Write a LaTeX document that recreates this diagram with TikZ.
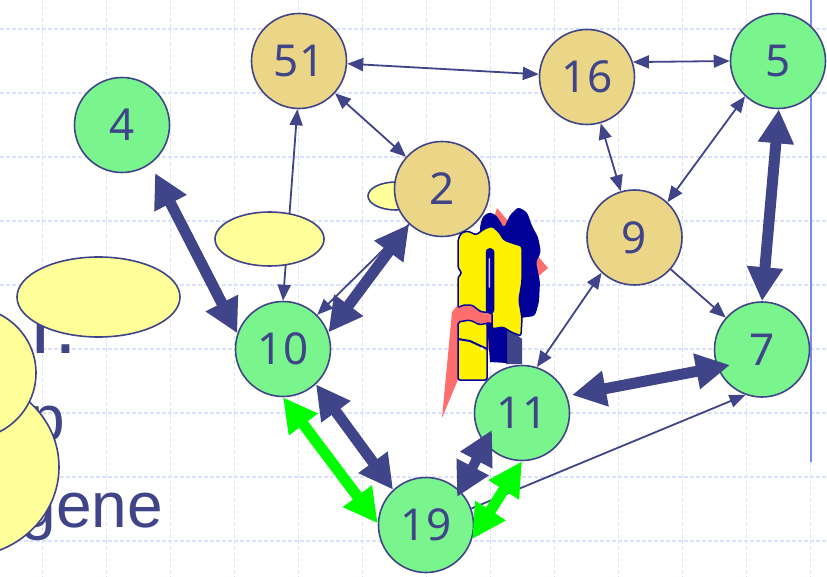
\documentclass[tikz,border=0pt]{standalone}
\usepackage{fontspec}
\setmainfont{Noto Sans}
\newfontfamily\slidefont{Liberation Sans}
\usetikzlibrary{arrows.meta,calc,shapes.geometric}

\definecolor{ink}{RGB}{64,68,136}
\definecolor{leaf}{RGB}{122,245,142}
\definecolor{sand}{RGB}{234,214,134}
\definecolor{cream}{RGB}{255,255,153}
\definecolor{gridblue}{RGB}{218,227,252}
\definecolor{rulecol}{RGB}{120,140,240}
\definecolor{deepblue}{RGB}{0,0,153}
\definecolor{salmon}{RGB}{255,110,110}
\definecolor{lime}{RGB}{0,255,0}

\tikzset{
  gridline/.style={gridblue, line width=1.5pt, dash pattern=on 4pt off 2pt},
  vertex/.style={circle, draw=ink, line width=1.6pt, minimum size=95pt, inner sep=0pt,
                 text=ink, font=\fontsize{44}{44}\selectfont},
  greenv/.style={vertex, fill=leaf},
  tanv/.style={vertex, fill=sand},
  blob/.style={ellipse, draw=ink, fill=cream, line width=1.6pt, inner sep=0pt},
  slidetext/.style={text=ink, inner sep=0pt, anchor=base east},
  thinlink/.style={draw=ink, line width=1.8pt,
                   {Triangle[length=16pt,width=13pt]}-{Triangle[length=16pt,width=13pt]}},
  thinone/.style={draw=ink, line width=1.8pt, -{Triangle[length=16pt,width=13pt]}},
  boldlink/.style={draw=ink, line width=11pt,
                   {Triangle[length=34pt,width=34pt]}-{Triangle[length=34pt,width=34pt]}},
  greenlink/.style={boldlink, draw=lime},
  clipline/.style={draw=deepblue, line width=1.5pt}
}

\begin{document}
\begin{tikzpicture}[x=1pt,y=-1pt]
\useasboundingbox (0,0) rectangle (827,577);
\clip (0,0) rectangle (827,577);
\fill[white] (0,0) rectangle (827,577);

% background grid
\foreach \i in {0,...,12} \draw[gridline] ({42.7+64*\i},0) -- ({42.7+64*\i},577);
\foreach \j in {0,...,8} \draw[gridline] (0,{29+64*\j}) -- (827,{29+64*\j});
\draw[rulecol, line width=2pt] (810.5,0) -- (810.5,462);

% slide text partly covered by the shapes
\node[slidetext, font=\slidefont\fontsize{82}{82}\selectfont] (t1) at (77,353) {r.};
\node[slidetext, font=\slidefont\fontsize{64}{64}\selectfont] (t2) at (65,440) {p};
\node[slidetext, font=\slidefont\fontsize{64}{64}\selectfont] (t3) at (163,527) {gene};

% yellow ellipses on the left
\node[blob, minimum width=192pt, minimum height=180pt] (b2) at (-37,467) {};
\node[blob, minimum width=134pt, minimum height=132pt] (b1) at (-31,373) {};
\node[blob, minimum width=163pt, minimum height=80pt] (b0) at (98.5,297) {};
\node[blob, minimum width=56pt, minimum height=28pt] (b4) at (396,196) {};

% network nodes
\node[tanv] (n51) at (299,61) {51};
\node[tanv] (n16) at (587,77) {16};
\node[greenv] (n5) at (778,61) {5};
\node[greenv] (n4) at (122,125) {4};
\node[tanv] (n2) at (442,189) {2};
\node[tanv] (n9) at (634.5,237.5) {9};
\node[greenv] (n7) at (762,349.5) {7};
\node[greenv] (n10) at (283,349) {10};
\node[greenv] (n11) at (522,413) {11};
\node[greenv] (n19) at (426,525) {19};

% thin links
\draw[thinlink] (n51) -- (n16);
\draw[thinlink] (n51) -- (n2);
\draw[thinlink] (n16.18) -- (n5.180);
\draw[thinlink] (n16) -- (n9);
\draw[thinlink] (n5.-133) -- (n9.47);
\draw[thinone] (n9) -- (n7);
\draw[thinlink] (n9.-133) -- (n11.72);
\draw[thinone] (n19.20) -- (n7.250);
\draw[thinlink] (n51.-92) -- (n10.90);
\draw[thinone] (n2.-133) -- (n10.45);

\node[blob, minimum width=109pt, minimum height=54pt] (b3) at (269.5,239) {};

% bold links
\draw[boldlink] ($(n4)+(33,48)$) -- (n10.161);
\draw[boldlink] (n2.-133) -- (n10.20);
\draw[boldlink] (n5.-89) -- (n7.90);
\draw[boldlink] ($(n7)+(-32,15.5)$) -- ($(n11)+(50,-18)$);
\draw[boldlink] (n10.-47) -- (n19.133);
\draw[boldlink, line width=10pt] ($(n19)+(31,-28)$) -- ($(n11)+(-30,17)$);
\draw[greenlink] (n10.-90) -- (n19.178);
\draw[greenlink] (n11.-90) -- (n19.-17);

% question mark with lightning bolt
\fill[salmon] (497,208) -- (548,268) -- (520,292) -- (515,330) -- (462,370) -- (442,418)
  -- (452,312) -- (470,290) -- cycle;
\fill[ink] (499,329) -- (512,331) -- (522,339) -- (522,364) -- (506,364) -- cycle;
\fill[deepblue, rounded corners=3pt] (480,226) -- (483,216) -- (490,212) -- (497,216)
  -- (504,228) -- (510,215) -- (518,207) -- (527,212) -- (532,226) -- (538,237)
  -- (541,252) -- (536,262) -- (540,282) -- (539,302) -- (535,316) -- (520,318)
  -- (500,318) -- (482,300) -- cycle;
\fill[deepblue] (487,322) -- (507,326) -- (507,363) -- (490,362) -- cycle;
\filldraw[fill=yellow, clipline, rounded corners=2.5pt] (458,308) -- (458,277) -- (462,273)
  -- (458,268) -- (458,240) -- (461,233) -- (468,231) -- (476,235) -- (484,229)
  -- (492,226) -- (499,232) -- (504,240) -- (512,243) -- (522,246) -- (522,282)
  -- (519,300) -- (522,318) -- (521,336) -- (511,332) -- (503,327) -- (492,329)
  -- (492,312) -- (481,312) -- (472,305) -- (463,305) -- cycle;
\filldraw[fill=deepblue, clipline, rounded corners=3pt] (486.5,313) -- (486.5,249)
  -- (493.5,249) -- (493.5,313) -- cycle;
\fill[blue!25!white, rounded corners=1pt] (488.5,258) rectangle (490.2,288);
\filldraw[fill=yellow, clipline, rounded corners=2pt] (458,322) -- (470,320) -- (480,325)
  -- (487,323) -- (487,380) -- (458,380) -- cycle;
\draw[clipline, line width=2pt] (458,339) -- (470,341) -- (487,349);
\fill[white] (482,349) circle (1.8);
\end{tikzpicture}
\end{document}
